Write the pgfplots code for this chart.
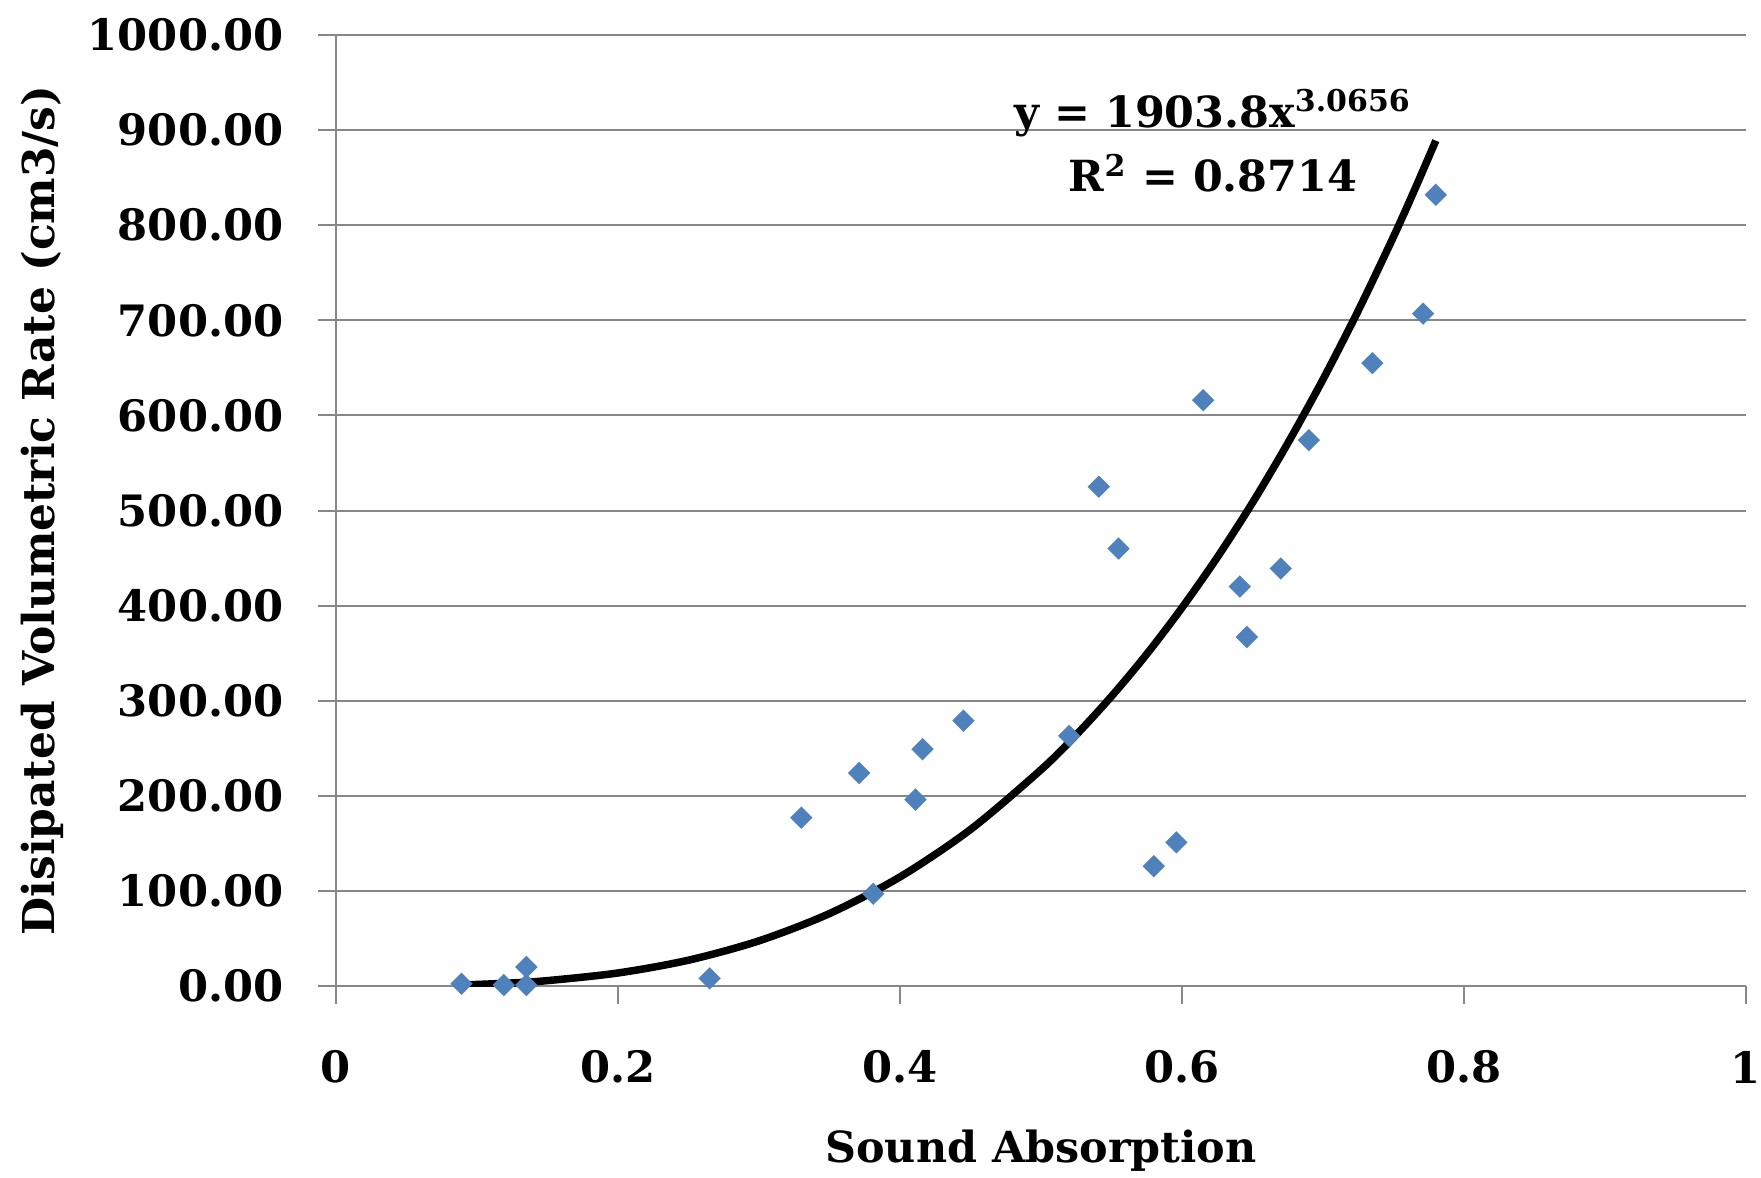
\documentclass[border=0pt]{standalone}
\usepackage{fontspec}
\setmainfont{DejaVu Serif}
\usepackage{pgfplots}
\usepackage{pgfplotstable}
\pgfplotsset{compat=1.18}
\definecolor{pt}{HTML}{4F81BD}
\definecolor{gr}{HTML}{878787}
\pgfplotstableread{
x y
0.089 2.4
0.119 1
0.135 1
0.135 20
0.265 8
0.330 177
0.371 224
0.381 97
0.411 196
0.416 249
0.445 279
0.520 263
0.541 525
0.555 460
0.580 126
0.596 151
0.615 616
0.641 420
0.646 367
0.670 439
0.690 574
0.735 655
0.771 707
0.780 832
}\datatable
\pgfplotstableread{
x y
0.089 1.15
0.10 1.64
0.125 3.24
0.15 5.67
0.20 13.71
0.25 27.16
0.30 47.5
0.35 76.2
0.40 114.7
0.45 164.6
0.50 227.4
0.525 264.1
0.55 304.6
0.575 349.0
0.60 397.8
0.625 450.7
0.65 508.2
0.675 570.7
0.70 637.9
0.725 710.2
0.75 787.9
0.765 837.4
0.78 888.9
}\trendtable
\begin{document}
\begin{tikzpicture}
\begin{axis}[
  scale only axis, width=141mm, height=95.1mm,
  xmin=0, xmax=1, ymin=0, ymax=1000,
  axis x line*=bottom, axis y line*=left,
  axis line style={gr, line width=0.2mm},
  xtick={0,0.2,0.4,0.6,0.8,1},
  ytick={0,100,200,300,400,500,600,700,800,900,1000},
  ymajorgrids, grid style={gr, line width=0.2mm},
  tick align=outside, major tick length=1.8mm,
  tick style={gr, line width=0.2mm},
  /pgf/number format/assume math mode=true,
  yticklabel style={/pgf/number format/fixed, /pgf/number format/fixed zerofill, /pgf/number format/precision=2, /pgf/number format/1000 sep={}},
  xticklabel style={/pgf/number format/fixed, /pgf/number format/precision=1},
  ticklabel style={font=\bfseries\fontsize{12.3}{14}\selectfont},
  yticklabel style={anchor=east, inner sep=0pt, xshift=-3.4mm},
  xticklabel style={anchor=center, inner sep=0pt, yshift=-6.3mm},
  xlabel={Sound Absorption}, ylabel={Disipated Volumetric Rate (cm3/s)},
  label style={font=\bfseries\fontsize{12.2}{14}\selectfont},
  xlabel style={at={(axis description cs:0.5,-0.1735)}, anchor=center},
  ylabel style={at={(axis description cs:-0.2085,0.5)}, anchor=center, font=\bfseries\fontsize{12.5}{14}\selectfont},
]
\addplot[only marks, mark=square*, mark size=0.72mm, mark options={rotate=45, fill=pt, draw=pt}] table[x=x,y=y] {\datatable};
\addplot[black, line width=0.75mm, smooth, no markers] table[x=x,y=y] {\trendtable};
\node[anchor=base, font=\bfseries\fontsize{12.2}{14}\selectfont] at (axis cs:0.622,903) {y = 1903.8x\textsuperscript{3.0656}};
\node[anchor=base, font=\bfseries\fontsize{12.2}{14}\selectfont] at (axis cs:0.622,835) {R\textsuperscript{2} = 0.8714};
\end{axis}
\pgfresetboundingbox
\path[use as bounding box] (-33.6mm,-19.1mm) rectangle (142.5mm,98.6mm);
\end{tikzpicture}
\end{document}
